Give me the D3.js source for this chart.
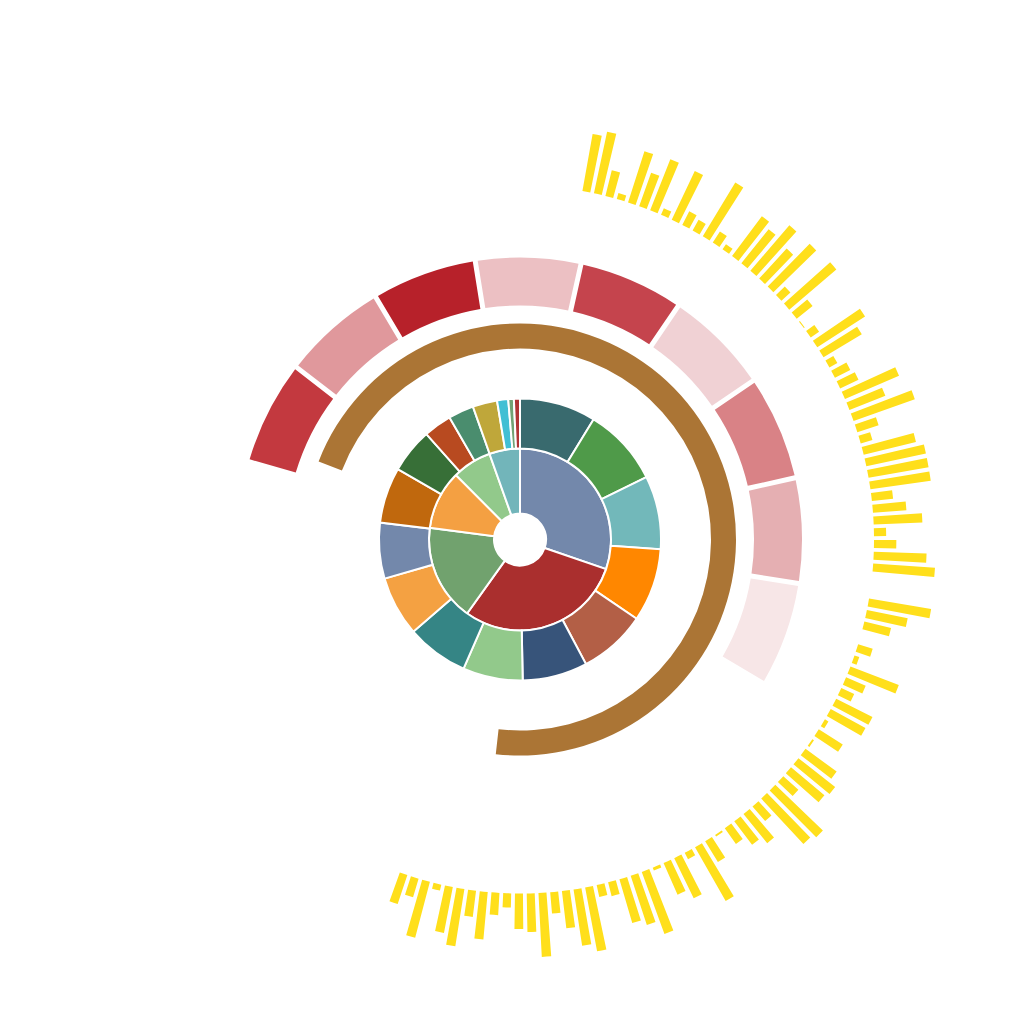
<!DOCTYPE html>
<html>
<head>
<meta charset="utf-8">
<style>
  body { margin: 0; background: #fff; }
</style>
</head>
<body>
<div id="chart-area"></div>
<script src="https://d3js.org/d3.v7.min.js"></script>
<script>
// inner pie
const innerCats = ["A", "B", "C", "D", "E", "F"]
const innerValues = [109, 106.6, 61.8, 37.8, 25.2, 19.6]

// second ring
const midCats = ["m1", "m2", "m3", "m4", "m5", "m6", "m7", "m8", "m9",
                 "m10", "m11", "m12", "m13", "m14", "m15", "m16", "m17", "m18"]
const midValues = [31.5, 32.2, 30.3, 30.2, 27.9, 26.8, 24.7, 25.6, 24.7,
                   23, 23, 18.5, 11.6, 10.5, 10.1, 4.6, 2.3, 2.5]

// progress ring, percent of a full turn
const gaugeValue = [70.9]

// band ring
const bandCats = ["s1", "s2", "s3", "s4", "s5", "s6", "s7", "s8", "s9"]

// radial bars
const barValues = [57, 62, 26, 6, 53, 35, 54, 7, 53, 15,
                   12, 62, 13, 6, 49, 43, 59, 40, 59, 12,
                   61, 20, 1, 10, 56, 44, 9, 17, 20, 58,
                   38, 64, 22, 12, 53, 60, 60, 60, 21, 33,
                   48, 12, 22, 52, 61, 0, 0, 62, 41, 27,
                   0, 15, 5, 51, 21, 14, 40, 39, 4, 28,
                   2, 38, 46, 43, 20, 65, 61, 19, 37, 29,
                   19, 2, 24, 61, 7, 44, 34, 3, 65, 51,
                   45, 14, 12, 64, 56, 37, 21, 63, 38, 35,
                   14, 22, 47, 26, 57, 46, 6, 57, 19, 30]
const barCats = barValues.map((d, i) => "b" + i)

// colours
const innerColors = ["#7388ab", "#aa2f2e", "#71a26e", "#f4a042", "#92c98b", "#72b5ba"]
const midColors = ["#396a6e", "#4f9a49", "#72b8ba", "#ff8700", "#b35f46", "#37547a",
                   "#92c98b", "#358585", "#f4a142", "#7388ab", "#c0680d", "#376f37",
                   "#b84a20", "#4a8d6e", "#bfa73a", "#41bfd4", "#72a274", "#b03434"]
const bandColors = ["#c3393f", "#e0989c", "#b7212a", "#ecc0c3", "#c5444d",
                    "#f0d1d4", "#d98286", "#e5afb2", "#f7e6e7"]
const GAUGE_COLOR = "#ab7535"
const BAR_COLOR = "#ffdf1b"

const WIDTH = 1024
const HEIGHT = 1024
const CX = 520, CY = 539.5

const rad = deg => deg * Math.PI / 180

const svg = d3.select("#chart-area").append("svg")
    .attr("width", WIDTH)
    .attr("height", HEIGHT)

const g = svg.append("g")
    .attr("transform", `translate(${CX}, ${CY})`)

const pie = d3.pie().sort(null).value(d => d.value)

// inner pie
const innerArc = d3.arc().innerRadius(26).outerRadius(91)
g.append("g").selectAll("path")
    .data(pie(innerCats.map((c, i) => ({ name: c, value: innerValues[i] }))))
    .enter().append("path")
    .attr("d", innerArc)
    .attr("fill", (d, i) => innerColors[i])
    .attr("stroke", "#fff")
    .attr("stroke-width", 2)

// second ring
const midArc = d3.arc().innerRadius(91).outerRadius(141)
g.append("g").selectAll("path")
    .data(pie(midCats.map((c, i) => ({ name: c, value: midValues[i] }))))
    .enter().append("path")
    .attr("d", midArc)
    .attr("fill", (d, i) => midColors[i])
    .attr("stroke", "#fff")
    .attr("stroke-width", 2)

// progress ring
const gaugeScale = d3.scaleLinear()
    .domain([0, 100])
    .range([rad(-68.8), rad(-68.8 + 360)])
const gaugeArc = d3.arc()
    .innerRadius(191)
    .outerRadius(216)
    .startAngle(gaugeScale(0))
    .endAngle(d => gaugeScale(d))
g.append("g").selectAll("path")
    .data(gaugeValue)
    .enter().append("path")
    .attr("d", gaugeArc)
    .attr("fill", GAUGE_COLOR)

// band ring
const xBand = d3.scaleBand()
    .domain(bandCats)
    .range([rad(-74), rad(120.6)])
const bandArc = d3.arc()
    .innerRadius(234)
    .outerRadius(282)
    .padRadius(258)
    .padAngle(5 / 258)
    .startAngle(d => xBand(d))
    .endAngle(d => xBand(d) + xBand.bandwidth())
g.append("g").selectAll("path")
    .data(bandCats)
    .enter().append("path")
    .attr("d", bandArc)
    .attr("fill", (d, i) => bandColors[i])

// radial bars
const xBar = d3.scaleBand()
    .domain(barCats)
    .range([rad(9.85), rad(200.15)])
    .paddingInner(0.32)
    .paddingOuter(0.16)
const yBar = d3.scaleLinear()
    .domain([0, 65])
    .range([354, 420])
const barArc = d3.arc()
    .innerRadius(yBar(0))
    .outerRadius(d => yBar(d.value))
    .startAngle(d => xBar(d.cat))
    .endAngle(d => xBar(d.cat) + xBar.bandwidth())
g.append("g").selectAll("path")
    .data(barCats.map((c, i) => ({ cat: c, value: barValues[i] })))
    .enter().append("path")
    .attr("d", barArc)
    .attr("fill", BAR_COLOR)
</script>
</body>
</html>
